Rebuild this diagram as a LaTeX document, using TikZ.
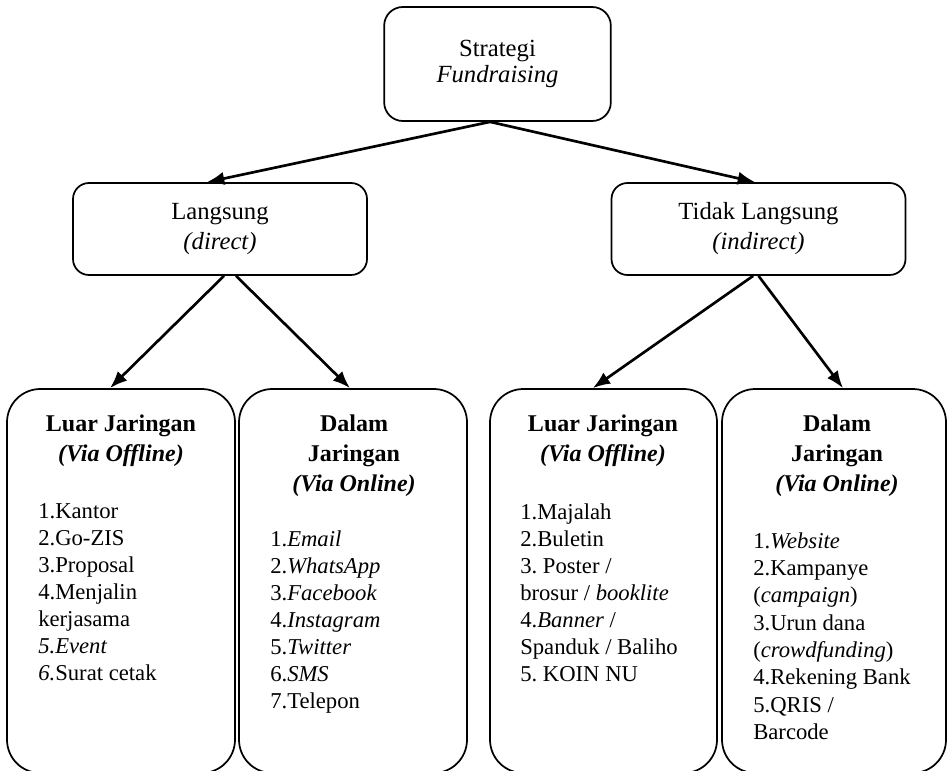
\documentclass[tikz,border=0pt]{standalone}
\usepackage{fontspec}
\setmainfont{Liberation Serif}
\usetikzlibrary{arrows.meta,positioning}
\frenchspacing

\begin{document}
\begin{tikzpicture}[x=0.75pt,y=-0.75pt,>={Latex[length=13pt,width=10pt]}]
\useasboundingbox (0,0) rectangle (948,770);
\tikzset{lvlbox/.style={draw, line width=1.3pt, rounded corners=12pt, align=center, font=\fontsize{18.5}{22.5}\selectfont, minimum width=220.5pt, minimum height=69pt},
  catbox/.style={draw, line width=1.3pt, rounded corners=25pt, minimum height=288pt},
  cathead/.style={anchor=north, align=center, inner sep=0pt, font=\bfseries\fontsize{18}{22.5}\selectfont},
  catlist/.style={anchor=north west, align=left, inner sep=0pt, font=\fontsize{17}{20.25}\selectfont},
  link/.style={->, line width=2pt}}
\node[lvlbox,minimum width=170pt,minimum height=85.5pt,rounded corners=14pt,font=\fontsize{18.5}{19.5}\selectfont] (strat) at (497.5,64) {Strategi\\\textit{Fundraising}};
\node[lvlbox] (lang) at (220,229) {Langsung\\\textit{(direct)}};
\node[lvlbox] (tidak) at (758.5,229) {Tidak Langsung\\\textit{(indirect)}};
\node[catbox,minimum width=171pt] (cat1) at (121,581) {};
\node[catbox,minimum width=171pt] (cat2) at (353,581) {};
\node[catbox,minimum width=170.25pt] (cat3) at (603.5,581) {};
\node[catbox,minimum width=168pt] (cat4) at (834,581) {};
\node[cathead] (head1) at (121,415) {Luar Jaringan\\\textit{(Via Offline)}};
\node[cathead] (head2) at (354,415) {Dalam\\Jaringan\\\textit{(Via Online)}};
\node[cathead] (head3) at (603,415) {Luar Jaringan\\\textit{(Via Offline)}};
\node[cathead] (head4) at (837,415) {Dalam\\Jaringan\\\textit{(Via Online)}};
\node[catlist] (list1) at (38,503) {1.Kantor\\2.Go-ZIS\\3.Proposal\\4.Menjalin\\kerjasama\\\textit{5.Event}\\\textit{6.}Surat cetak};
\node[catlist] (list2) at (270,530) {1.\textit{Email}\\2.\textit{WhatsApp}\\3.\textit{Facebook}\\4.\textit{Instagram}\\5.\textit{Twitter}\\6.\textit{SMS}\\7.Telepon};
\node[catlist] (list3) at (520,503) {1.Majalah\\2.Buletin\\3. Poster /\\brosur / \textit{booklite}\\4.\textit{Banner} /\\Spanduk / Baliho\\5. KOIN NU};
\node[catlist,font=\fontsize{17}{20.5}\selectfont] (list4) at (753,532) {1.\textit{Website}\\2.Kampanye\\(\textit{campaign})\\3.Urun dana\\(\textit{crowdfunding})\\4.Rekening Bank\\5.QRIS /\\Barcode};
\foreach \a/\sa/\b/\sb in {strat/-5.6/lang/-9.75, strat/-5.6/tidak/-2.6, lang/3/cat1/-8.25, lang/12/cat2/-2.25, tidak/-4/cat3/-8, tidak/0/cat4/6.75}{\draw[link] ([xshift=\sa pt]\a.south) -- ([xshift=\sb pt]\b.north);}
\end{tikzpicture}
\end{document}
